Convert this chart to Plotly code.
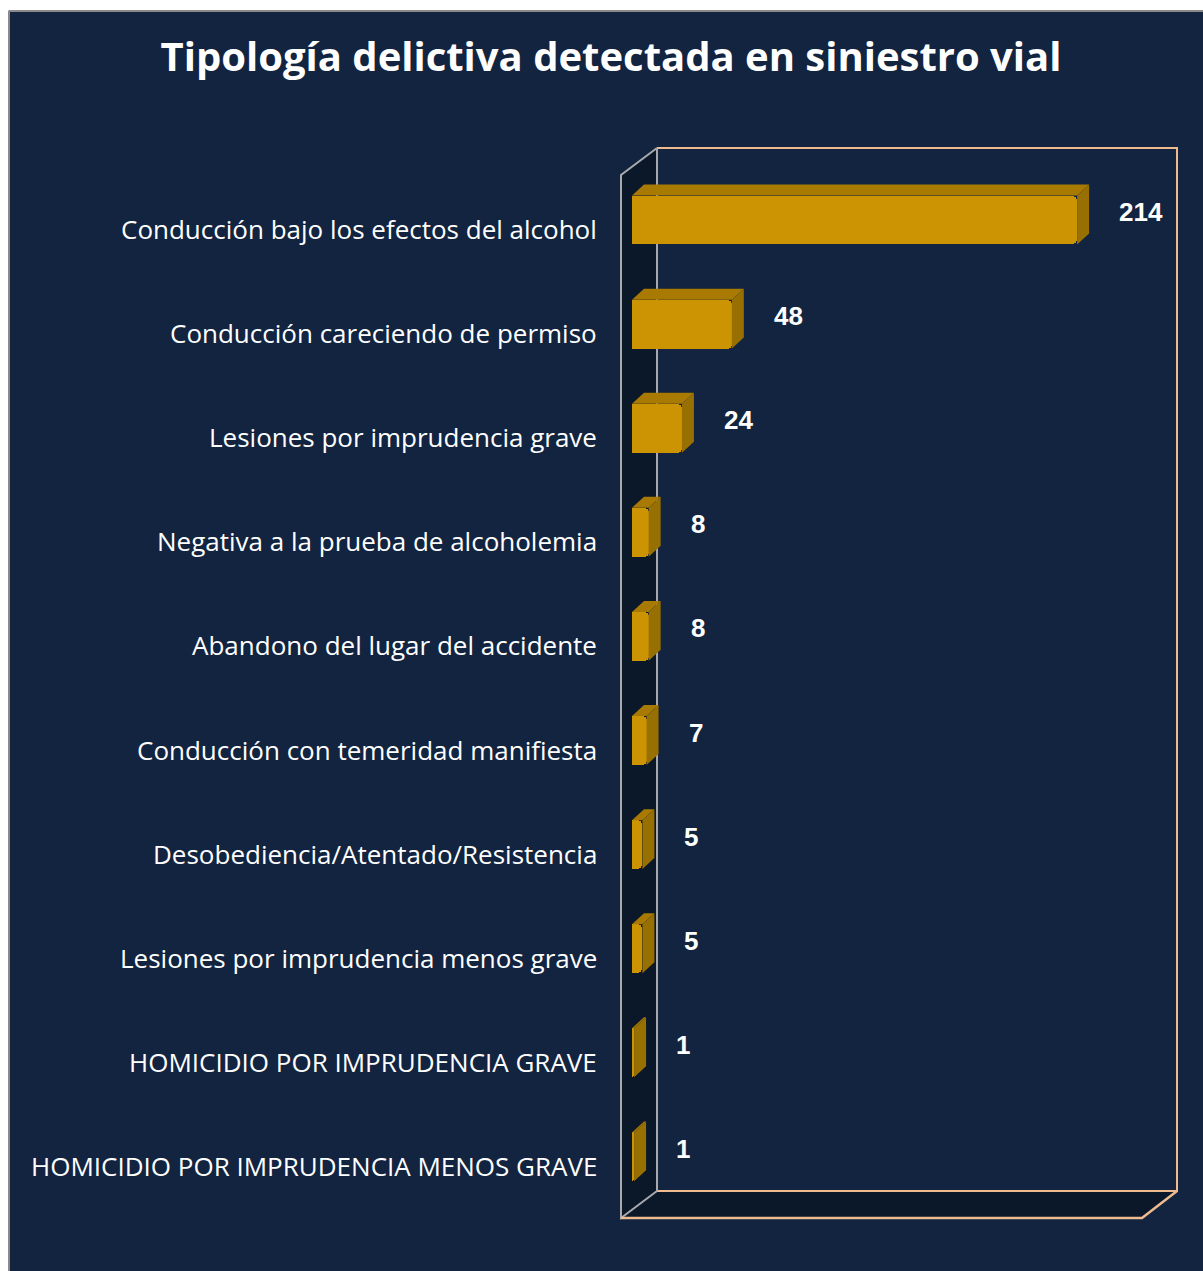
import plotly.graph_objects as go

# Figure size in pixels
W, H = 1203, 1271

title = "Tipología delictiva detectada en siniestro vial"
categories = [
    "Conducción bajo los efectos del alcohol",
    "Conducción careciendo de permiso",
    "Lesiones por imprudencia grave",
    "Negativa a la prueba de alcoholemia",
    "Abandono del lugar del accidente",
    "Conducción con temeridad manifiesta",
    "Desobediencia/Atentado/Resistencia",
    "Lesiones por imprudencia menos grave",
    "HOMICIDIO POR IMPRUDENCIA GRAVE",
    "HOMICIDIO POR IMPRUDENCIA MENOS GRAVE",
]
values = [214, 48, 24, 8, 8, 7, 5, 5, 1, 1]

NAVY = "#12243F"
DARK = "#0B1829"
PEACH = "#EDBB8E"
GREY = "#A7A9AD"
GOLD_FRONT = "#CC9303"
GOLD_TOP = "#A97A02"
GOLD_SIDE = "#987002"


def px(x):
    return x / W


def py(y):
    return 1 - y / H


# Plot area geometry (pixels) and scales
X0, X1 = 632, 1177          # value axis pixel span
PX_PER_UNIT = 2.08
Y_TOP, Y_BOT = 148, 1191
ROW0, ROW_STEP = 220, 104.1
x_max = (X1 - X0) / PX_PER_UNIT
y_lo = (Y_TOP - ROW0) / ROW_STEP
y_hi = (Y_BOT - ROW0) / ROW_STEP

pos = list(range(len(categories)))
bar_w = 0.47
dx = 12 / PX_PER_UNIT        # 3D depth offset along value axis
dy = 11 / ROW_STEP           # 3D depth offset along category axis

fig = go.Figure()

# Top and side faces of the 3D bars
for v, p in zip(values, pos):
    top = p - bar_w / 2
    bot = p + bar_w / 2
    fig.add_trace(go.Scatter(
        x=[0, dx, v + dx, v, 0], y=[top, top - dy, top - dy, top, top],
        fill="toself", fillcolor=GOLD_TOP, mode="lines",
        line=dict(width=0), hoverinfo="skip", showlegend=False))
    fig.add_trace(go.Scatter(
        x=[v, v + dx, v + dx, v, v], y=[top, top - dy, bot - dy, bot, top],
        fill="toself", fillcolor=GOLD_SIDE, mode="lines",
        line=dict(width=0), hoverinfo="skip", showlegend=False))

# Front faces
fig.add_trace(go.Bar(
    x=values, y=pos, orientation="h", width=bar_w,
    marker=dict(color=GOLD_FRONT, line=dict(width=0), cornerradius=5),
    hoverinfo="skip", showlegend=False))

# Value labels
for v, p in zip(values, pos):
    fig.add_annotation(
        x=v, y=p, xref="x", yref="y", text=f"<b>{v}</b>", showarrow=False,
        xanchor="left", yanchor="middle", xshift=40, yshift=8,
        font=dict(family="Liberation Sans", size=26, color="white"))

# Category labels
for c, p in zip(categories, pos):
    fig.add_annotation(
        x=px(599), y=p, xref="paper", yref="y", text=c, showarrow=False,
        xanchor="right", yanchor="middle", yshift=-9,
        font=dict(family="Open Sans", size=26, color="white"))

shapes = [
    # white margin and grey frame line of the panel
    dict(type="rect", xref="paper", yref="paper", x0=0, x1=1, y0=py(10.5), y1=1,
         fillcolor="white", line=dict(width=0), layer="below"),
    dict(type="rect", xref="paper", yref="paper", x0=0, x1=px(8.5), y0=0, y1=1,
         fillcolor="white", line=dict(width=0), layer="below"),
    dict(type="line", xref="paper", yref="paper", x0=px(9), x1=1, y0=py(11), y1=py(11),
         line=dict(color="#8A8A8A", width=2), layer="below"),
    dict(type="line", xref="paper", yref="paper", x0=px(9), x1=px(9), y0=0, y1=py(11),
         line=dict(color="#8A8A8A", width=2), layer="below"),
    # left wall
    dict(type="path", xref="paper", yref="paper",
         path=f"M {px(621)},{py(175)} L {px(657)},{py(148)} L {px(657)},{py(1191)} L {px(621)},{py(1218)} Z",
         fillcolor=DARK, line=dict(width=0), layer="below"),
    # floor
    dict(type="path", xref="paper", yref="paper",
         path=f"M {px(621)},{py(1218)} L {px(657)},{py(1191)} L {px(1177)},{py(1191)} L {px(1142)},{py(1218)} Z",
         fillcolor=DARK, line=dict(width=0), layer="below"),
    # back wall outline
    dict(type="path", xref="paper", yref="paper",
         path=f"M {px(657)},{py(1191)} L {px(1177)},{py(1191)} L {px(1177)},{py(148)} L {px(657)},{py(148)}",
         line=dict(color=PEACH, width=2), layer="below"),
    dict(type="line", xref="paper", yref="paper", x0=px(657), x1=px(657), y0=py(148), y1=py(1191),
         line=dict(color=GREY, width=2), layer="below"),
    # left wall edges
    dict(type="path", xref="paper", yref="paper",
         path=f"M {px(657)},{py(148)} L {px(621)},{py(175)} L {px(621)},{py(1218)} L {px(657)},{py(1191)}",
         line=dict(color=GREY, width=2), layer="below"),
    # floor front and right edges
    dict(type="path", xref="paper", yref="paper",
         path=f"M {px(621)},{py(1218)} L {px(1142)},{py(1218)} L {px(1177)},{py(1191)}",
         line=dict(color=PEACH, width=2.5), layer="below"),
]

fig.update_layout(
    width=W, height=H,
    margin=dict(l=0, r=0, t=0, b=0),
    paper_bgcolor=NAVY, plot_bgcolor="rgba(0,0,0,0)",
    shapes=shapes,
    title=dict(text=f"<b>{title}</b>", x=px(611), xanchor="center",
               y=py(57), yanchor="middle",
               font=dict(family="Open Sans", size=40, color="white")),
    xaxis=dict(domain=[px(X0), px(X1)], range=[0, x_max], visible=False, fixedrange=True),
    yaxis=dict(domain=[py(Y_BOT), py(Y_TOP)], range=[y_hi, y_lo], visible=False, fixedrange=True),
    bargap=0,
)

fig.write_html("out.html")
